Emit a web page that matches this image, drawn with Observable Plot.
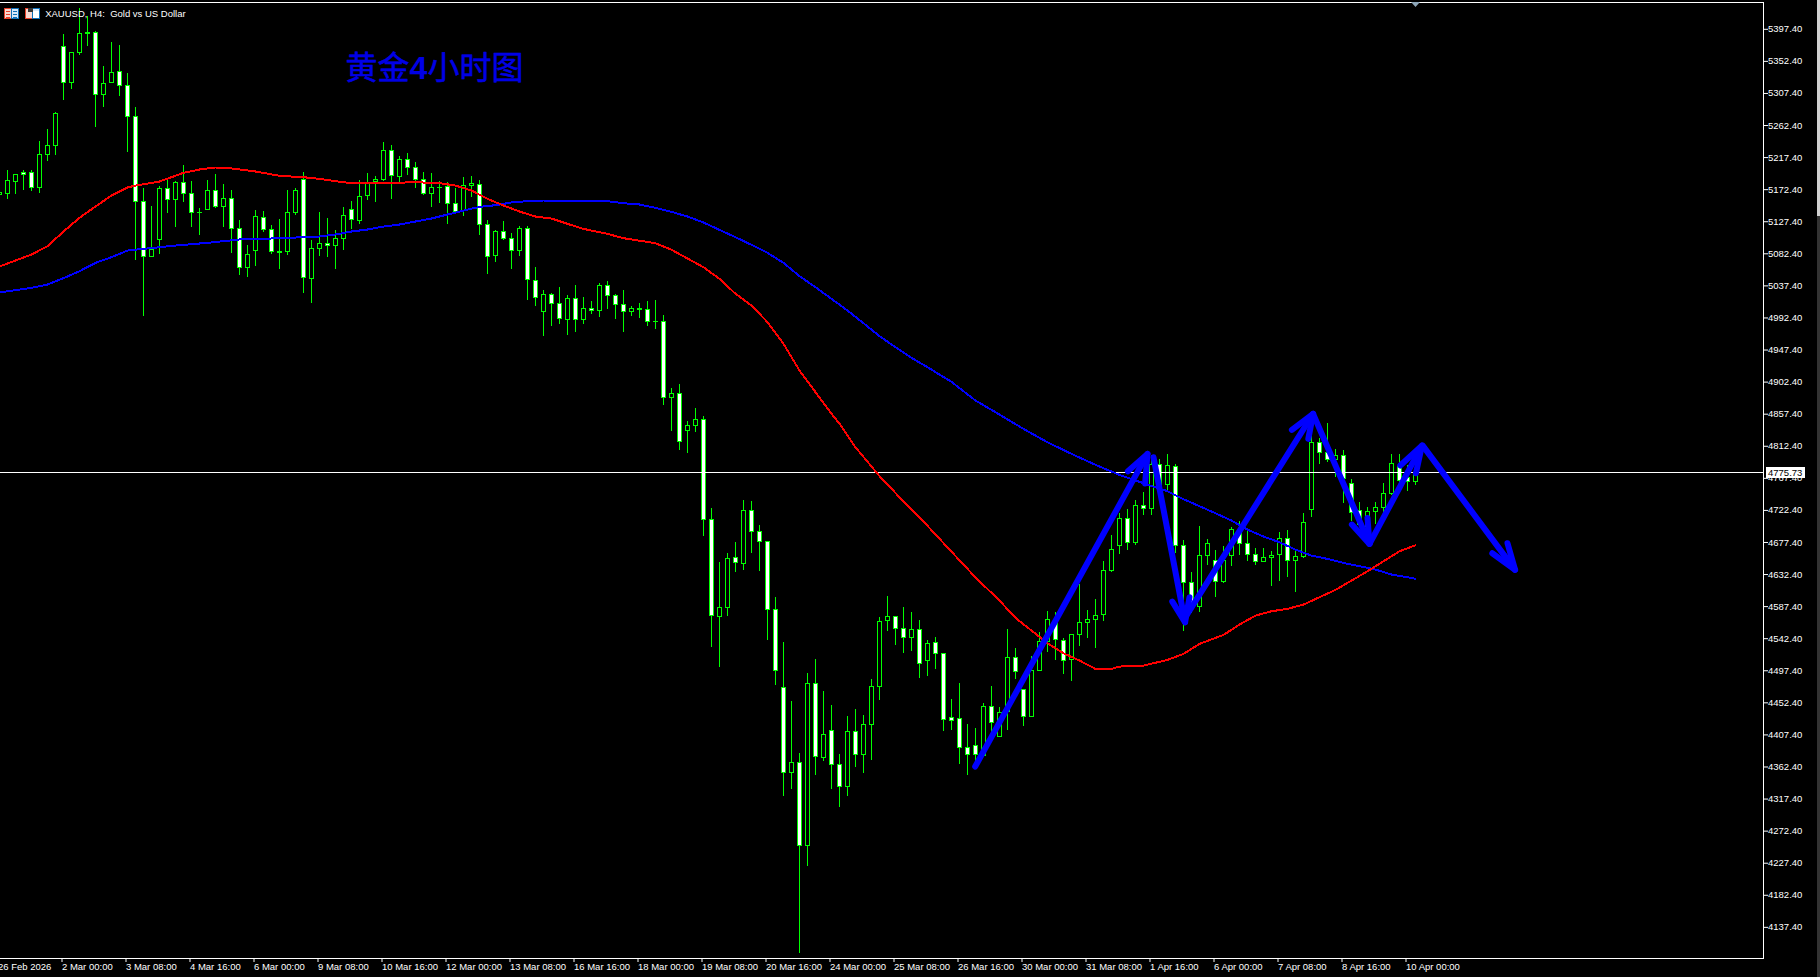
<!DOCTYPE html>
<html><head><meta charset="utf-8">
<script src="https://cdn.jsdelivr.net/npm/d3@7"></script>
<script src="https://cdn.jsdelivr.net/npm/@observablehq/plot@0.6"></script>
<style>html,body{margin:0;padding:0;background:#000;overflow:hidden}svg{display:block}</style>
</head><body><div id="chart"></div>
<script>
const highs=[5169,5200,5193.9,5200,5200,5240.7,5257.5,5281.4,5390.8,5365,
5426.8,5416,5395,5345.9,5379.6,5375.4,5335.6,5288.4,5174.7,5149.5,
5177.5,5186.9,5184.1,5207,5184.1,5146.2,5186,5194.4,5180.3,5171.4,
5129.8,5094.3,5143.8,5142.4,5122.8,5131.2,5171.9,5174.2,5196.7,5101.8,
5141,5132.6,5115.8,5147.6,5156.5,5185.5,5195.8,5191.6,5238.8,5235,
5219.6,5223.8,5211.2,5197.2,5195.8,5185,5183.6,5175.2,5190.2,5191.6,
5185.5,5129.8,5115.8,5128.4,5111.6,5120.9,5120.9,5063.9,5031.6,5027.4,
5035.8,5024.6,5038.6,5021.3,5015.7,5041.4,5044.2,5026,5031.6,5009.2,
5013.4,5016.2,5017.6,4996.5,4894.7,4899.7,4848.5,4866.6,4854.2,4726.3,
4650.2,4663.3,4678.3,4736.9,4735.7,4702,4678.9,4601,4538,4455,
4381.5,4494.3,4513.7,4468.8,4449.4,4380.8,4433.8,4443.8,4435.1,4485.6,
4572.9,4602.8,4573.5,4586.6,4579.8,4569.2,4540.5,4544.8,4523,4457.7,
4479.7,4422.6,4416.5,4451.6,4475.9,4446,4555.9,4529.2,4471.7,4518,
4551.2,4581.2,4579.3,4542.8,4548.4,4618.6,4582.6,4598,4650.8,4687.8,
4718.2,4723.8,4736.9,4748.1,4800,4794.4,4801.4,4787.4,4680.8,4635.9,
4700,4682.2,4666.7,4672.3,4699,4707,4697.1,4669.1,4669.1,4665.3,
4692,4694.8,4665.3,4718.6,4826.7,4823.4,4844.9,4808,4807.1,4765.9,
4733.6,4727.5,4734,4760.3,4801.4,4801.4,4786,4781.3];
const lows=[5165,5159.8,5166.3,5171.9,5171,5168.2,5213.1,5221,5298.2,5314.1,
5361.8,5374.4,5260.8,5288.8,5322.5,5303.8,5225.7,5073.7,4995.6,5078.8,
5082.1,5139.6,5120.5,5155.1,5120.5,5109.2,5144.8,5147.1,5120.5,5084,
5052.6,5050.3,5065.7,5113.4,5082.1,5061.5,5080.7,5137.3,5027.9,5013.8,
5079.3,5077.9,5061.1,5087.7,5116.7,5124.2,5157.9,5155.1,5184.5,5159.3,
5183.6,5193,5174.7,5164.9,5148,5153.7,5124.7,5139.2,5135.4,5162.1,
5108.8,5054,5070.9,5101.8,5061.1,5079.3,5017.6,5009.2,4967.1,4981.1,
4983.9,4968.5,4972.7,4983.9,4997.9,4993.7,5004.9,4990.9,4972.7,4995.1,
4992.3,4981.6,4976.9,4870.2,4833.6,4807.4,4803.6,4832.3,4686.4,4531.1,
4503.1,4574.2,4635.3,4639,4662.1,4637.8,4540.5,4478.1,4321,4331.6,
4102.1,4223.7,4350.9,4370.9,4331.6,4306.6,4321,4362.1,4353.4,4372.1,
4456.3,4553,4533.6,4523,4524.9,4487.5,4489.4,4500,4412.7,4414.2,
4366.5,4351,4369.7,4379.1,4409.5,4404.8,4414.2,4485.7,4419.8,4432.9,
4497.4,4524.1,4512.4,4492.8,4483.4,4532,4543.3,4529.2,4567.6,4635.9,
4661.1,4666.7,4674.2,4715.8,4715.8,4750.9,4750.9,4663,4553.5,4577.9,
4580.2,4645.7,4601.3,4620.9,4644.8,4659.7,4651.8,4645.7,4650.4,4616.7,
4623.2,4629.3,4608.3,4655,4713.5,4787.4,4790.7,4769.6,4733.1,4707.9,
4699.5,4692.5,4703.2,4718.2,4743.9,4751.9,4749.5,4757.9];
const opens=[5166,5166.8,5183.6,5196.7,5196.7,5175.2,5221.5,5234.1,5373.5,5323,
5364.6,5393.1,5393.1,5305.7,5322.5,5338.4,5318.8,5275.3,5156,5078.8,
5102.2,5174.2,5158.8,5182.7,5167.2,5140.6,5144.8,5171.4,5149,5160.2,
5118.1,5063.4,5087.3,5133.6,5116.7,5085.9,5085.9,5140.6,5186.9,5048,
5089.6,5097,5093.8,5103.6,5144.8,5128.9,5164,5183.6,5186.4,5227.6,
5190.6,5214.9,5203.7,5186.4,5166.8,5175.7,5177,5153.2,5143.8,5178.5,
5179.9,5123.7,5080.2,5113.9,5104.1,5087.3,5118.1,5045.2,5001.7,5025.5,
5012.9,4990,5019.9,4990.4,5005.9,5003.1,5038.1,5024.1,5011.5,5001.7,
5004,5004.5,4987.6,4987.6,4880.9,4886.6,4834.2,4841.7,4849.8,4709.5,
4573.5,4586,4656.5,4647.8,4722.6,4692.6,4678.9,4583.5,4473.8,4354.7,
4369,4252.4,4479.4,4375.9,4413.9,4366.5,4334.7,4412,4379.6,4422,
4475,4567.9,4573.5,4556.7,4544.2,4555.4,4511.8,4537.4,4521.8,4432,
4430.6,4389.9,4392.7,4379.1,4447.4,4404.8,4439.9,4516.1,4471.2,4433.4,
4497.4,4538.1,4568.5,4540,4513.3,4548,4564.8,4569.4,4576.5,4638.7,
4672.8,4711.2,4677,4729.4,4724.7,4787.4,4758.4,4784.1,4673.3,4621.4,
4587.2,4659.3,4652.2,4622.3,4658.8,4695.7,4676.1,4660.7,4650.4,4656.4,
4660.2,4683.1,4651.8,4657.4,4723.8,4817.8,4803.8,4794,4799.6,4760.3,
4722.4,4699.5,4720.5,4726.1,4746.2,4783.7,4768.7,4762.6];
const closes=[5168,5185.5,5193.9,5193.4,5175.2,5222,5234.6,5279.5,5323,5365,
5392.2,5391.7,5306.1,5321.6,5337,5318.8,5275.3,5156,5078.8,5088.7,
5174.2,5158.8,5182.7,5167.2,5140.6,5140.1,5171.4,5149,5160.2,5118.1,
5063.4,5081.6,5135,5116.7,5085.9,5084,5140.6,5171.4,5049.4,5090.1,
5097,5093.8,5104.1,5136.4,5130.8,5163,5181.3,5186.9,5227.6,5192,
5214.9,5203.2,5186.4,5166.8,5175.7,5175.2,5153.2,5141.5,5178.5,5181.3,
5123.3,5078.4,5113.9,5104.1,5087.3,5118.1,5046.1,5021.3,5025.5,5012.9,
4991.8,5019.9,4990.4,5005.9,5003.1,5038.1,5024.1,5011.5,5001.7,5005.9,
5005.9,4987.6,4987.2,4881,4886.6,4819.2,4841.7,4849.8,4709.5,4574.8,
4586,4655.2,4649,4722.6,4692.6,4678.9,4583.5,4497.4,4354.7,4369,
4252.4,4479.4,4377.1,4408.3,4365.9,4335.3,4412,4380.2,4422,4475.6,
4566.7,4573.5,4556.7,4544.2,4555.4,4508,4535.5,4521.8,4429.5,4427.7,
4389.9,4379.6,4379.6,4447.4,4425,4439,4516.1,4496,4433.4,4498.4,
4538.1,4569.4,4541.4,4511.9,4548.4,4565.2,4569.4,4575.1,4638.2,4667.7,
4711.2,4677,4729.4,4724.7,4787.4,4758,4785.5,4672.8,4620.9,4587.2,
4659.3,4676.1,4622.8,4652.7,4695.7,4676.1,4660.2,4650.4,4656.4,4659.3,
4683.1,4651.8,4657.9,4705.6,4817.8,4803.8,4794,4799.6,4767.3,4719.6,
4703.2,4720.5,4726.6,4746.2,4788.3,4765,4762.6,4775.7];

const redBars=[0,4,6,8,10,12,14,16,17,20,23,25,27,28,30,32,35,38,40,42,44,48,52,55,57,59,61,63,65,67,69,71,73,76,78,82,84,88,90,92,94,96,98,100,102,104,105,107,110,113,116,119,122,125,127,129,131,133,135,137,139,140,143,146,148,150,153,155,157,159,161,163,165,167,169,171,173,175,177];
const redValues=[5065.3,5082.1,5093.8,5114.4,5133.6,5149.5,5164.9,5176.1,5178.9,5184.5,5196.7,5201.4,5204.2,5204.2,5201.4,5198.6,5192.5,5190.6,5188.3,5185,5182.2,5182.2,5183.6,5182.2,5178.9,5171.9,5160.2,5150.9,5142.4,5135.4,5132.6,5125.1,5118.1,5111.1,5105,5098,5088.7,5064.3,5048,5027,5010.6,4987.2,4956.8,4919.4,4889,4858.6,4844.8,4811.7,4771.2,4735.7,4701.4,4665.2,4629,4596.6,4572.3,4554.5,4536.7,4522.7,4512.4,4500.7,4500.7,4504,4505.4,4513.3,4521.7,4535.8,4548.4,4562.9,4575.5,4581.6,4584.9,4591,4601.3,4611.6,4624.6,4637.7,4651.8,4665.8,4674.2];
const blueBars=[0,4,6,8,10,12,14,16,18,22,26,30,34,38,40,42,44,46,48,50,52,54,56,58,60,62,64,66,68,72,76,78,80,82,84,86,88,90,92,94,96,98,100,102,104,106,108,110,112,114,116,119,122,125,128,131,134,137,140,143,146,148,150,152,154,156,158,160,162,164,166,168,170,172,174,176,177];
const blueValues=[5028.8,5035.3,5040,5048.9,5058.7,5070.4,5078.4,5087.7,5090,5094.7,5098.5,5103.2,5104.6,5106.4,5107.4,5110.2,5114.4,5117.2,5121.4,5124.2,5128.4,5132.6,5138.2,5143.8,5149,5151.3,5155.1,5157,5157.9,5157.9,5157,5154.1,5152.3,5147.6,5142,5135.4,5127,5116.7,5106.4,5095.7,5084.4,5070.4,5051.7,5036.3,5019.9,5003.5,4985.8,4967.5,4952.1,4937.1,4924,4903.4,4877.2,4857.6,4837.4,4818.7,4802.4,4787,4772.9,4761.2,4750,4738.8,4729,4719.1,4708.8,4696.2,4686.4,4678.4,4668.1,4659.7,4655,4649.4,4644.8,4640.1,4633.1,4629.3,4627];

const arrowBars=[[121.96,143.5],[141.05,143.5,143.2],[144.25,148.2],[146.6,148.2,148.75],[148.2,164.2],[161.55,164.2,163.6],[164.2,171.25],[169.05,171.25,171],[171.25,177.8],[175.1,177.8,177.05],[177.9,189.45],[186.6,189.45,188.5]];
const arrowPrices=[[4363.7,4802.4],[4778,4802.4,4761],[4797.7,4566.1],[4595.2,4566.1,4601.2],[4572.7,4858.6],[4836.1,4858.6,4823.5],[4858.6,4676.1],[4703.2,4676.1,4712.6],[4676.1,4814],[4786,4814,4775.2],[4814,4639.7],[4663,4639.7,4677]];

const lastPrice=4775.73;
const yTicks=[5397.4,5352.4,5307.4,5262.4,5217.4,5172.4,5127.4,5082.4,5037.4,4992.4,4947.4,4902.4,4857.4,4812.4,4767.4,4722.4,4677.4,4632.4,4587.4,4542.4,4497.4,4452.4,4407.4,4362.4,4317.4,4272.4,4227.4,4182.4,4137.4];
const xTickBars=[0,8,16,24,32,40,48,56,64,72,80,88,96,104,112,120,128,136,144,152,160,168,176];
const xTickLabels=["26 Feb 2026","2 Mar 00:00","3 Mar 08:00","4 Mar 16:00","6 Mar 00:00","9 Mar 08:00","10 Mar 16:00","12 Mar 00:00","13 Mar 08:00","16 Mar 16:00","18 Mar 00:00","19 Mar 08:00","20 Mar 16:00","24 Mar 00:00","25 Mar 08:00","26 Mar 16:00","30 Mar 00:00","31 Mar 08:00","1 Apr 16:00","6 Apr 00:00","7 Apr 08:00","8 Apr 16:00","10 Apr 00:00"];

const candles=highs.map((h,i)=>({i,high:h,low:lows[i],open:opens[i],close:closes[i]}));
const red=redBars.map((b,i)=>({b,v:redValues[i]}));
const blue=blueBars.map((b,i)=>({b,v:blueValues[i]}));
const arrows=arrowBars.flatMap((bs,k)=>bs.map((b,j)=>({k,b,v:arrowPrices[k][j]})));
const GREEN="#00ff00", FONT="'Liberation Sans',Arial,sans-serif", CJK="'Noto Sans CJK SC',sans-serif";
const labelOf=new Map(xTickBars.map((b,i)=>[b,xTickLabels[i]]));
const body={x1:d=>d.i-0.25,x2:d=>d.i+0.25,y1:"open",y2:"close",stroke:GREEN,strokeWidth:1,dx:0.5,shapeRendering:"crispEdges"};
const titleOpts={frameAnchor:"top-left",dy:66.5,fill:"#0000e6",fontSize:32,lineAnchor:"middle",textAnchor:"start"};

const plot=Plot.plot({
  width:1820,height:977,marginLeft:0,marginRight:57,marginTop:2,marginBottom:19,
  style:{background:"#000",color:"#fff",fontFamily:FONT,fontSize:"9.5px",overflow:"hidden"},
  x:{domain:[0.125,220.5],axis:null},
  y:{domain:[4094.4,5435.7],axis:null},
  marks:[
    Plot.ruleX(candles,{x:"i",y1:"low",y2:"high",stroke:GREEN,strokeWidth:1,shapeRendering:"crispEdges"}),
    Plot.rect(candles.filter(d=>d.close>=d.open),{...body,fill:"#000"}),
    Plot.rect(candles.filter(d=>d.close<d.open),{...body,fill:"#fff"}),
    Plot.ruleY([lastPrice],{stroke:"#fff",strokeWidth:1,shapeRendering:"crispEdges"}),
    Plot.line(blue,{x:"b",y:"v",stroke:"#0000ff",strokeWidth:2,shapeRendering:"crispEdges"}),
    Plot.line(red,{x:"b",y:"v",stroke:"#ff0000",strokeWidth:2,shapeRendering:"crispEdges"}),
    Plot.line(arrows,{x:"b",y:"v",z:"k",stroke:"#0000ff",strokeWidth:6,strokeLinecap:"round",strokeLinejoin:"round"}),
    Plot.frame({anchor:"top",stroke:"#fff"}),
    Plot.frame({anchor:"right",stroke:"#fff"}),
    Plot.frame({anchor:"bottom",stroke:"#fff"}),
    Plot.axisY(yTicks,{anchor:"right",tickFormat:d=>d.toFixed(2),tickSize:4,tickPadding:0.5,stroke:"#fff",fill:"#fff",label:null,textAnchor:"start",dy:-0.5}),
    Plot.axisX(xTickBars,{anchor:"bottom",tickFormat:d=>labelOf.get(d),tickSize:4,tickPadding:1,stroke:"#fff",fill:"#fff",label:null,textAnchor:"start",dx:-1.5}),
    Plot.text(["黄金"],{...titleOpts,dx:345,fontFamily:CJK,stroke:"#0000e6",strokeWidth:0.5}),
    Plot.text(["4"],{...titleOpts,dx:409,fontWeight:"bold",fontFamily:FONT}),
    Plot.text(["小时图"],{...titleOpts,dx:427,fontFamily:CJK,stroke:"#0000e6",strokeWidth:0.5}),
    Plot.text(["XAUUSD, H4:  Gold vs US Dollar"],{frameAnchor:"top-left",dx:44.7,dy:11.5,fill:"#fff",lineAnchor:"middle",textAnchor:"start",fontSize:9.5})
  ]
});
document.getElementById("chart").appendChild(plot);

// last-price tag, placed through the chart's own y scale
const svg=d3.select(plot);
const yLast=plot.scale("y").apply(lastPrice);
svg.append("rect").attr("x",1766).attr("y",yLast-5.5).attr("width",39).attr("height",11).attr("fill","#fff").attr("shape-rendering","crispEdges");
svg.append("text").attr("x",1768).attr("y",yLast).attr("dy","0.35em").attr("fill","#000").attr("font-size",9.5).attr("text-anchor","start").text(lastPrice.toFixed(2));

// terminal chrome: window icons, shift marker, scrollbar strip
const icon=svg.append("g").attr("shape-rendering","crispEdges");
[[4,"table"],[25,"disk"]].forEach(([x,kind])=>{
  icon.append("rect").attr("x",x+.5).attr("y",8.5).attr("width",7).attr("height",10).attr("fill","#f8d8d0").attr("stroke","#e8402a");
  icon.append("rect").attr("x",x+7.5).attr("y",8.5).attr("width",7).attr("height",10).attr("fill","#d8e8f8").attr("stroke","#1070b8");
  if(kind==="table"){
    [11,14,17].forEach(y=>{icon.append("rect").attr("x",x+2).attr("y",y-.5).attr("width",4).attr("height",1).attr("fill","#e8402a");
      icon.append("rect").attr("x",x+9).attr("y",y-.5).attr("width",4).attr("height",1).attr("fill","#1070b8");});
  } else {
    icon.append("rect").attr("x",x+3).attr("y",8).attr("width",5).attr("height",4).attr("fill","#333");
    icon.append("rect").attr("x",x+8).attr("y",11).attr("width",6).attr("height",7).attr("fill","#fff");
  }
});
svg.append("path").attr("d","M1411,2L1420,2L1415.5,7Z").attr("fill","#8ea6b8");
svg.append("rect").attr("x",1817).attr("y",0).attr("width",3).attr("height",216).attr("fill","#d0d0d0");
svg.append("rect").attr("x",1817).attr("y",216).attr("width",3).attr("height",761).attr("fill","#333");
</script></body></html>
